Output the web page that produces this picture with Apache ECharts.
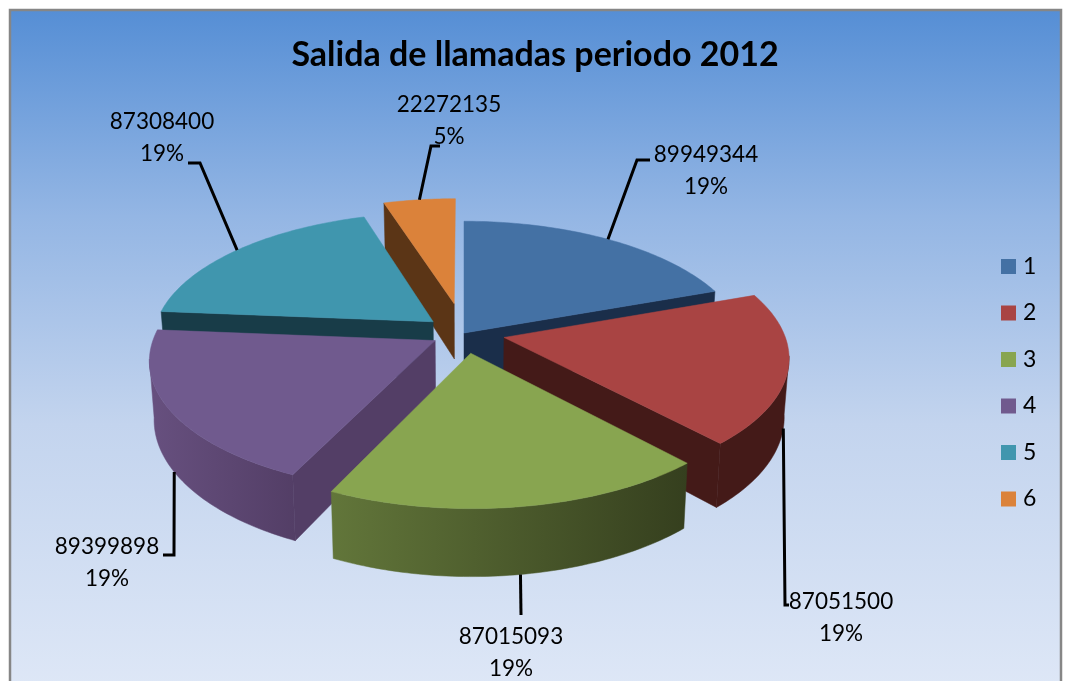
<!DOCTYPE html>
<html>
<head>
<meta charset="utf-8">
<title>Salida de llamadas periodo 2012</title>
<script src="https://cdn.jsdelivr.net/npm/echarts@6/dist/echarts.min.js"></script>
<style>
html, body { margin: 0; padding: 0; background: #fff; }
#chart { width: 1066px; height: 681px; }
</style>
</head>
<body>
<div id="chart"></div>
<script>
var titulo = "Salida de llamadas periodo 2012";
var categorias = ["1", "2", "3", "4", "5", "6"];
var valores = [89949344, 87051500, 87015093, 89399898, 87308400, 22272135];

// colores de cada porcion
var colorTapa = ["#4471a4", "#a94443", "#88a550", "#705a8e", "#4096ae", "#db823a"];
var colorCorte = ["#1a2e4a", "#441a18", "#3a4522", "#533e66", "#183c48", "#5b3516"];
var colorBorde = [
  ["#1a2e4a", "#1a2e4a"],
  ["#441a18", "#441a18"],
  ["#62763a", "#353f1e"],
  ["#67507f", "#533e66"],
  ["#183c48", "#183c48"],
  ["#5b3516", "#5b3516"]
];
// separacion de cada porcion y orden de pintado (de atras hacia adelante)
var separacion = [0, 41, 44, 33, 40, 67];
var ordenZ = [3, 5, 6, 4, 2, 1];

// etiquetas: centro del texto y codo de la linea guia
var etiquetaCentro = [[706, 171], [841, 618], [511, 653], [107, 563], [162, 138], [449, 121]];
var guiaCodo = [
  [[637, 160], [650, 160]],
  [[785, 605], [789, 605]],
  [[521, 615]],
  [[174, 555], [163, 555]],
  [[200, 163], [188, 163]],
  [[431, 146], [440, 146]]
];
// la guia sale de la tapa (true) o de la base (false)
var guiaEnTapa = [true, false, false, false, true, true];

// parametros de la vista 3D
var centroX = 464, centroY = 333, radio = 280, alto = 57;
var achatado = 0.455, perspectiva = 0.14;

var total = valores.reduce(function (a, b) { return a + b; }, 0);
var rad = Math.PI / 180;
// angulo donde la silueta del pastel es vertical
var angSilueta = Math.acos(-perspectiva) / rad;

function proyectar(gx, gy, base) {
  var s = 1 / (1 + perspectiva * gy / radio);
  var enc = base ? 0.985 : 1;
  return [
    centroX + gx * s * enc,
    centroY - gy * achatado * s + (base ? alto * s : 0)
  ];
}

function renderPorcion(i, params, api) {
  var valor = api.value(0);
  var acum = 0;
  for (var k = 0; k < i; k++) acum += valores[k];
  var ini = acum / total * 360;
  var fin = (acum + valor) / total * 360;
  var medio = (ini + fin) / 2;
  var ox = separacion[i] * Math.sin(medio * rad);
  var oy = separacion[i] * Math.cos(medio * rad);

  function punto(ang, base) {
    return proyectar(ox + radio * Math.sin(ang * rad), oy + radio * Math.cos(ang * rad), base);
  }
  function arco(a, b, base) {
    var pts = [];
    var n = Math.max(2, Math.ceil(Math.abs(b - a)));
    for (var j = 0; j <= n; j++) pts.push(punto(a + (b - a) * j / n, base));
    return pts;
  }
  var apice = proyectar(ox, oy, false);
  var apiceBase = proyectar(ox, oy, true);
  var hijos = [];

  function cara(points, fill) {
    hijos.push({
      type: "polygon",
      shape: { points: points },
      style: { fill: fill, stroke: fill, lineWidth: 0.5 },
      silent: true
    });
  }

  // cortes radiales visibles
  if (Math.sin(ini * rad) < -0.001) {
    cara([apice, punto(ini, false), punto(ini, true), apiceBase], colorCorte[i]);
  }
  if (Math.sin(fin * rad) > 0.001) {
    cara([apice, punto(fin, false), punto(fin, true), apiceBase], colorCorte[i]);
  }
  // borde exterior, solo la parte que mira al frente
  var a = Math.max(ini, angSilueta), b = Math.min(fin, 360 - angSilueta);
  if (b > a) {
    cara(arco(a, b, false).concat(arco(b, a, true)), new echarts.graphic.LinearGradient(0, 0, 1, 0, [
      { offset: 0, color: colorBorde[i][0] },
      { offset: 1, color: colorBorde[i][1] }
    ]));
  }
  // tapa
  cara([apice].concat(arco(ini, fin, false)), colorTapa[i]);

  // linea guia y etiqueta
  var inicioGuia = punto(medio, !guiaEnTapa[i]);
  hijos.push({
    type: "polyline",
    shape: { points: [inicioGuia].concat(guiaCodo[i]) },
    style: { stroke: "#000", lineWidth: 3, fill: null },
    silent: true
  });
  hijos.push({
    type: "text",
    x: etiquetaCentro[i][0],
    y: etiquetaCentro[i][1],
    style: {
      text: valor + "\n" + Math.round(valor / total * 100) + "%",
      fill: "#000",
      fontFamily: "Lato",
      fontSize: 22.5,
      lineHeight: 32,
      align: "center",
      verticalAlign: "middle"
    },
    silent: true
  });
  return { type: "group", children: hijos };
}

var chart = echarts.init(document.getElementById("chart"), null, { renderer: "canvas" });

chart.setOption({
  animation: false,
  backgroundColor: "#fff",
  title: {
    text: titulo,
    left: 530,
    top: 33,
    textAlign: "center",
    textStyle: { fontFamily: "Lato", fontWeight: "bold", fontSize: 34, color: "#000" }
  },
  legend: {
    orient: "vertical",
    left: 1001,
    top: 255,
    padding: 0,
    data: categorias,
    icon: "rect",
    itemWidth: 15,
    itemHeight: 15,
    itemGap: 23.5,
    selectedMode: false,
    textStyle: { fontFamily: "Lato", fontSize: 23, color: "#000", padding: [0, 0, 0, 2] }
  },
  graphic: [{
    type: "rect",
    z: -1,
    silent: true,
    shape: { x: 10, y: 10, width: 1051, height: 690 },
    style: {
      stroke: "#868686",
      lineWidth: 2.5,
      fill: new echarts.graphic.LinearGradient(0, 0, 0, 1, [
        { offset: 0, color: "#558ed5" },
        { offset: 0.3, color: "#94b6e4" },
        { offset: 0.6, color: "#c3d4ee" },
        { offset: 1, color: "#dfe8f7" }
      ])
    }
  }],
  series: categorias.map(function (nombre, i) {
    return {
      type: "custom",
      name: nombre,
      coordinateSystem: "none",
      z: ordenZ[i],
      itemStyle: { color: colorTapa[i] },
      data: [[valores[i]]],
      renderItem: function (params, api) {
        return renderPorcion(i, params, api);
      }
    };
  })
});
</script>
</body>
</html>
